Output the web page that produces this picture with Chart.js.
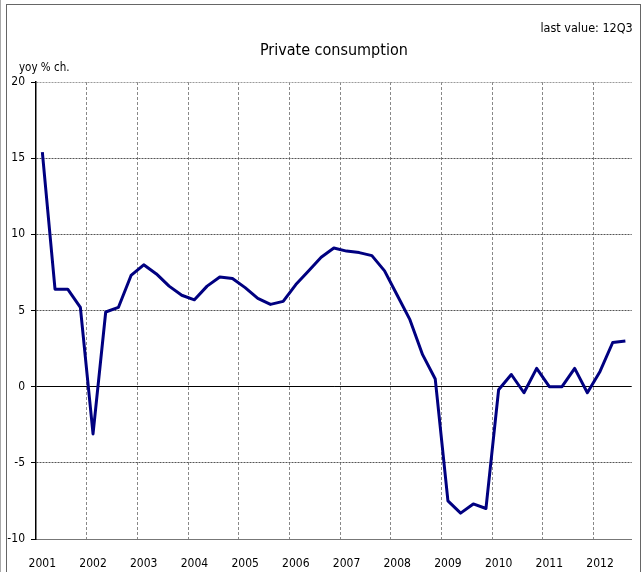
<!DOCTYPE html>
<html>
<head>
<meta charset="utf-8">
<script src="https://cdn.jsdelivr.net/npm/chart.js@4.4.1/dist/chart.umd.min.js"></script>
<style>
  html, body { margin: 0; padding: 0; background: #fff; }
  #wrap { position: relative; width: 643px; height: 572px; overflow: hidden; }
  #frameOuter { position: absolute; left: 0; top: 0; width: 1px; height: 572px; background: #aaa; }
  #frame { position: absolute; left: 6px; top: 4px; width: 635px; height: 600px;
           border: 1px solid #666; box-sizing: border-box; }
  canvas { position: absolute; left: 0; top: 0; }
</style>
</head>
<body>
<div id="wrap">
  <div id="frameOuter"></div>
  <div id="frame"></div>
  <canvas id="c" width="643" height="572"></canvas>
</div>
<script>
// ---- data ----
const years = ['2001','2002','2003','2004','2005','2006','2007','2008','2009','2010','2011','2012'];
const quarters = [
  '01Q1','01Q2','01Q3','01Q4','02Q1','02Q2','02Q3','02Q4','03Q1','03Q2','03Q3','03Q4',
  '04Q1','04Q2','04Q3','04Q4','05Q1','05Q2','05Q3','05Q4','06Q1','06Q2','06Q3','06Q4',
  '07Q1','07Q2','07Q3','07Q4','08Q1','08Q2','08Q3','08Q4','09Q1','09Q2','09Q3','09Q4',
  '10Q1','10Q2','10Q3','10Q4','11Q1','11Q2','11Q3','11Q4','12Q1','12Q2','12Q3'
];
const privateConsumption = [
  15.4, 6.4, 6.4, 5.2, -3.1, 4.9, 5.2, 7.3, 8.0, 7.4, 6.6, 6.0,
  5.7, 6.6, 7.2, 7.1, 6.5, 5.8, 5.4, 5.6, 6.7, 7.6, 8.5, 9.1,
  8.9, 8.8, 8.6, 7.6, 6.0, 4.4, 2.1, 0.5, -7.5, -8.3, -7.7, -8.0,
  -0.2, 0.8, -0.4, 1.2, 0.0, 0.0, 1.2, -0.4, 1.0, 2.9, 3.0
];
const yTicks = { min: -10, max: 20, step: 5 };
const titleText = 'Private consumption';
const unitText = 'yoy % ch.';
const lastValueText = 'last value: 12Q3';

const FONT = "'DejaVu Sans Condensed', 'DejaVu Sans', sans-serif";

const textPlugin = {
  id: 'extraText',
  afterDraw(chart) {
    const { ctx, chartArea } = chart;
    ctx.save();
    ctx.fillStyle = '#000';
    ctx.textBaseline = 'middle';
    ctx.font = '12.5px ' + FONT;
    ctx.textAlign = 'right';
    ctx.fillText(lastValueText, chartArea.right + 1, 29);
    ctx.font = '11.5px ' + FONT;
    ctx.textAlign = 'left';
    ctx.fillText(unitText, chartArea.left - 17, chartArea.top - 14);
    ctx.restore();
  }
};

new Chart(document.getElementById('c'), {
  type: 'line',
  data: {
    labels: quarters,
    datasets: [{
      data: privateConsumption,
      borderColor: '#000080',
      borderWidth: 3,
      pointRadius: 0,
      tension: 0,
      borderJoinStyle: 'round',
      fill: false
    }]
  },
  options: {
    responsive: false,
    animation: false,
    devicePixelRatio: 1,
    layout: { padding: { left: 0, right: 10, top: 0, bottom: 0 } },
    plugins: {
      legend: { display: false },
      tooltip: { enabled: false },
      title: {
        display: true,
        text: titleText,
        fullSize: false,
        color: '#000',
        font: { family: FONT, size: 16, weight: 'normal', lineHeight: 1.2 },
        padding: { top: 40.9, bottom: 21.9 }
      }
    },
    scales: {
      x: {
        type: 'category',
        offset: true,
        afterFit(scale) { scale.height = 33; },
        grid: {
          offset: true,
          drawTicks: false,
          color(ctx) {
            const i = ctx.index;
            if (i === quarters.length) return '#b0b0b0';
            if (i > 0 && i % 4 === 0) return '#888';
            return 'rgba(0,0,0,0)';
          },
          lineWidth: 1
        },
        border: {
          display: true,
          color: '#777',
          width: 1,
          dash(ctx) { return ctx.index === quarters.length ? [] : [3, 2]; }
        },
        ticks: {
          autoSkip: false,
          maxRotation: 0,
          minRotation: 0,
          padding: 17.5,
          color: '#000',
          font: { family: FONT, size: 12 },
          callback(val, i) { return i % 4 === 0 ? years[i / 4] : ''; }
        }
      },
      y: {
        min: yTicks.min,
        max: yTicks.max,
        afterFit(scale) { scale.width = 36; },
        grid: {
          drawTicks: true,
          tickLength: 5,
          tickColor: '#000',
          tickWidth: 1,
          lineWidth: 1,
          color(ctx) {
            const v = ctx.tick ? ctx.tick.value : null;
            if (v === 0) return '#000';
            if (v === yTicks.min) return 'rgba(0,0,0,0)';
            if (v === yTicks.max) return '#9a9a9a';
            return '#555';
          }
        },
        border: {
          display: true,
          color: '#000',
          width: 1.5,
          dash(ctx) { return (ctx.tick && ctx.tick.value === 0) ? [] : [2, 1]; }
        },
        ticks: {
          stepSize: yTicks.step,
          padding: 6,
          color: '#000',
          font: { family: FONT, size: 12 }
        }
      }
    }
  },
  plugins: [textPlugin]
});
</script>
</body>
</html>
